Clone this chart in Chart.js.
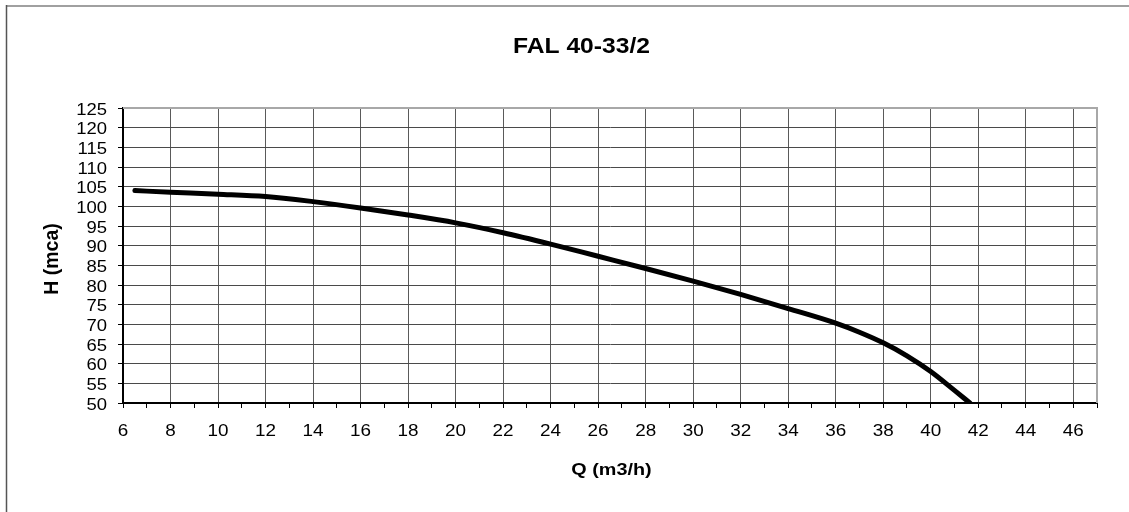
<!DOCTYPE html>
<html>
<head>
<meta charset="utf-8">
<script src="https://cdn.jsdelivr.net/npm/chart.js@4/dist/chart.umd.min.js"></script>
<style>
html,body{margin:0;padding:0;background:#fff;}
#wrap{width:1129px;height:512px;position:relative;}
</style>
</head>
<body>
<div id="wrap"><canvas id="c" width="1129" height="512"></canvas></div>
<script>
const chartTitle = "FAL 40-33/2";
const xTitle = "Q (m3/h)";
const yTitle = "H (mca)";
const qValues = [6.5, 8, 10, 12, 14, 16, 18, 20, 22, 24, 26, 28, 30, 32, 34, 36, 37, 38, 39, 40, 41, 41.65];
const hValues = [104, 103.6, 103.1, 102.5, 101.2, 99.6, 97.8, 95.8, 93.3, 90.4, 87.3, 84.2, 81, 77.6, 74, 70.3, 68, 65.3, 62, 58, 53.2, 50];
const xMin = 6, xMax = 47, xStep = 1, xLabelStep = 2;
const yMin = 50, yMax = 125, yStep = 5;

const FONT = "'Liberation Sans', Arial, sans-serif";

function stretchedText(ctx, text, x, y, sx, align) {
  ctx.save();
  ctx.translate(x, y);
  ctx.scale(sx, 1);
  ctx.textAlign = align;
  ctx.fillText(text, 0, 0);
  ctx.restore();
}

const decor = {
  id: 'decor',
  beforeDraw(chart) {
    const ctx = chart.ctx;
    ctx.save();
    ctx.fillStyle = '#fff';
    ctx.fillRect(0, 0, chart.width, chart.height);
    ctx.strokeStyle = '#a0a0a0';
    ctx.lineWidth = 2;
    ctx.beginPath(); ctx.moveTo(6, 6); ctx.lineTo(chart.width, 6); ctx.stroke();
    ctx.strokeStyle = '#555';
    ctx.lineWidth = 1.5;
    ctx.beginPath(); ctx.moveTo(6.5, 5); ctx.lineTo(6.5, chart.height); ctx.stroke();
    ctx.restore();
  },
  afterDatasetsDraw(chart) {
    const ctx = chart.ctx, a = chart.chartArea;
    const xs = chart.scales.x, ys = chart.scales.y;
    ctx.save();
    ctx.strokeStyle = '#a8a8a8';
    ctx.lineWidth = 2;
    ctx.beginPath();
    ctx.moveTo(a.left, a.top); ctx.lineTo(a.right, a.top); ctx.lineTo(a.right, a.bottom);
    ctx.stroke();
    ctx.fillStyle = '#000';
    ctx.textBaseline = 'alphabetic';
    // tick labels
    ctx.font = "16.5px " + FONT;
    ys.ticks.forEach(t => {
      stretchedText(ctx, String(t.value), a.left - 16, ys.getPixelForValue(t.value) + 6.5, 1.12, 'right');
    });
    ctx.font = "16px " + FONT;
    xs.ticks.forEach(t => {
      if (t.value % xLabelStep !== 0) return;
      stretchedText(ctx, String(t.value), xs.getPixelForValue(t.value), 435.5, 1.18, 'center');
    });
    // titles
    ctx.font = "bold 22px " + FONT;
    stretchedText(ctx, chartTitle, 581.5, 53.3, 1.12, 'center');
    ctx.font = "bold 16.5px " + FONT;
    stretchedText(ctx, xTitle, 611.5, 475, 1.2, 'center');
    ctx.translate(57.5, 259);
    ctx.rotate(-Math.PI / 2);
    ctx.font = "bold 19.5px " + FONT;
    ctx.textAlign = 'center';
    ctx.fillText(yTitle, 0, 0);
    ctx.restore();
  }
};

new Chart(document.getElementById('c'), {
  type: 'line',
  data: {
    datasets: [{
      data: qValues.map((q, i) => ({x: q, y: hValues[i]})),
      borderColor: '#000',
      borderWidth: 5,
      pointRadius: 0,
      cubicInterpolationMode: 'monotone',
      borderCapStyle: 'round',
      borderJoinStyle: 'round',
      fill: false
    }]
  },
  options: {
    responsive: false,
    animation: false,
    devicePixelRatio: 1,
    layout: {padding: {left: 0, top: 108, right: 32, bottom: 0}},
    plugins: {legend: {display: false}, tooltip: {enabled: false}, title: {display: false}},
    scales: {
      x: {
        type: 'linear',
        min: xMin, max: xMax,
        afterFit(s) { s.height = 109; },
        ticks: {
          stepSize: xStep,
          autoSkip: false,
          maxRotation: 0,
          padding: 10,
          color: 'rgba(0,0,0,0)',
          font: {family: FONT, size: 15},
          callback: v => (v % xLabelStep === 0 ? String(v) : '')
        },
        grid: {
          color: c => (c.tick && c.tick.value % xLabelStep === 0 ? '#5a5a5a' : 'rgba(0,0,0,0)'),
          tickColor: '#000',
          tickLength: 5,
          lineWidth: 1
        },
        border: {color: '#000', width: 2}
      },
      y: {
        type: 'linear',
        min: yMin, max: yMax,
        afterFit(s) { s.width = 123; },
        ticks: {
          stepSize: yStep,
          autoSkip: false,
          padding: 11,
          color: 'rgba(0,0,0,0)',
          font: {family: FONT, size: 15}
        },
        grid: {
          color: '#4a4a4a',
          tickColor: '#000',
          tickLength: 5,
          lineWidth: 1
        },
        border: {color: '#000', width: 2}
      }
    }
  },
  plugins: [decor]
});
</script>
</body>
</html>
